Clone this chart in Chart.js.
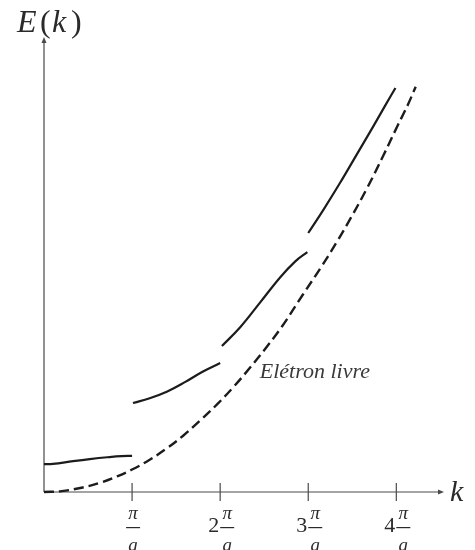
<!DOCTYPE html>
<html>
<head>
<meta charset="utf-8">
<script src="https://cdn.jsdelivr.net/npm/chart.js@4/dist/chart.umd.min.js"></script>
<style>
  html, body { margin: 0; padding: 0; background: #ffffff; }
  #wrap { width: 475px; height: 550px; position: relative; }
</style>
</head>
<body>
<div id="wrap"><canvas id="c" width="475" height="550"></canvas></div>
<script>
// k in units of pi/a, E in arbitrary units
const kFree = [0.00, 0.20, 0.44, 0.64, 0.83, 1.00, 1.20, 1.40, 1.58, 1.77, 1.97, 2.15, 2.34, 2.53, 2.70, 2.94, 3.14, 3.33, 3.48, 3.67, 3.85, 4.01, 4.13, 4.22];
const eFree = [0.00, 0.04, 0.20, 0.41, 0.69, 0.99, 1.42, 1.94, 2.48, 3.14, 3.88, 4.62, 5.48, 6.40, 7.28, 8.70, 9.87, 11.05, 12.05, 13.40, 14.80, 16.10, 17.05, 17.85];

const kBand1 = [0.00, 0.10, 0.33, 0.52, 0.72, 0.88, 1.00];
const eBand1 = [1.23, 1.24, 1.36, 1.45, 1.53, 1.58, 1.59];

const kBand2 = [1.01, 1.20, 1.40, 1.60, 1.80, 2.00];
const eBand2 = [3.92, 4.13, 4.43, 4.84, 5.30, 5.68];

const kBand3 = [2.02, 2.23, 2.45, 2.68, 2.85, 2.99];
const eBand3 = [6.43, 7.27, 8.33, 9.45, 10.15, 10.57];

const kBand4 = [3.00, 3.17, 3.36, 3.56, 3.74, 3.87, 3.99];
const eBand4 = [11.41, 12.42, 13.61, 14.93, 16.12, 17.00, 17.80];

const tickValues = [1, 2, 3, 4];
const tickPrefixes = ["", "2", "3", "4"];

const yLabel = "E(k)";
const xLabel = "k";
const freeLabel = "Elétron livre";
const freeLabelPos = [2.45, 5.02];

function pts(ks, es) { return ks.map((k, i) => ({ x: k, y: es[i] })); }

const solid = { borderColor: '#1c1c1c', borderWidth: 2.2, pointRadius: 0, fill: false, tension: 0.4, clip: false };

const SERIF = '"Liberation Serif", "DejaVu Serif", serif';

const axesPlugin = {
  id: 'axesPlugin',
  beforeDatasetsDraw(chart) {
    const ctx = chart.ctx;
    const xs = chart.scales.x, ys = chart.scales.y;
    const x0 = xs.getPixelForValue(0), y0 = ys.getPixelForValue(0);
    const xEnd = chart.chartArea.right, yTop = chart.chartArea.top;
    ctx.save();
    ctx.strokeStyle = '#4a4a4a';
    ctx.fillStyle = '#4a4a4a';
    ctx.lineWidth = 1.2;
    ctx.beginPath();
    ctx.moveTo(x0, y0); ctx.lineTo(xEnd - 2, y0);
    ctx.moveTo(x0, y0); ctx.lineTo(x0, yTop + 2);
    ctx.stroke();
    // arrowheads
    ctx.beginPath();
    ctx.moveTo(xEnd + 1, y0); ctx.lineTo(xEnd - 5, y0 - 2.5); ctx.lineTo(xEnd - 5, y0 + 2.5); ctx.closePath();
    ctx.fill();
    ctx.beginPath();
    ctx.moveTo(x0, yTop - 1); ctx.lineTo(x0 - 2.5, yTop + 5); ctx.lineTo(x0 + 2.5, yTop + 5); ctx.closePath();
    ctx.fill();
    // ticks
    tickValues.forEach(v => {
      const px = xs.getPixelForValue(v);
      ctx.beginPath(); ctx.moveTo(px, y0 - 9); ctx.lineTo(px, y0 + 9); ctx.stroke();
    });
    ctx.restore();
  },
  afterDraw(chart) {
    const ctx = chart.ctx;
    const xs = chart.scales.x, ys = chart.scales.y;
    const y0 = ys.getPixelForValue(0);
    ctx.save();
    ctx.fillStyle = '#2a2a2a';
    ctx.textBaseline = 'alphabetic';
    // tick labels
    tickValues.forEach((v, i) => {
      const px = xs.getPixelForValue(v);
      const pre = tickPrefixes[i];
      ctx.font = '22px ' + SERIF;
      const wPre = pre ? ctx.measureText(pre).width + 1 : 0;
      const fracW = 14;
      const total = wPre + fracW;
      const left = px + 1 - total / 2;
      if (pre) {
        ctx.textAlign = 'left';
        ctx.fillText(pre, left, y0 + 40);
      }
      const fx = left + wPre + fracW / 2;
      ctx.textAlign = 'center';
      ctx.font = 'italic 19px ' + SERIF;
      ctx.fillText('π', fx, y0 + 27);
      ctx.fillRect(fx - fracW / 2, y0 + 35, fracW, 1.2);
      ctx.fillText('a', fx, y0 + 59);
    });
    // x label
    ctx.textAlign = 'left';
    ctx.font = 'italic 30px ' + SERIF;
    ctx.fillText(xLabel, chart.chartArea.right + 7, y0 + 9);
    // y label E(k)
    const base = 32;
    const xPos = [17, 40, 52, 71];
    const styles = ['italic ', '', 'italic ', ''];
    for (let i = 0; i < yLabel.length; i++) {
      ctx.font = styles[i] + '32px ' + SERIF;
      ctx.fillText(yLabel[i], xPos[i], base);
    }
    // free electron label
    ctx.fillStyle = '#3a3a3a';
    ctx.font = 'italic 22px ' + SERIF;
    ctx.fillText(freeLabel, xs.getPixelForValue(freeLabelPos[0]), ys.getPixelForValue(freeLabelPos[1]));
    ctx.restore();
  }
};

new Chart(document.getElementById('c'), {
  type: 'line',
  data: {
    datasets: [
      Object.assign({ data: pts(kFree, eFree) }, solid, { borderDash: [10, 5], borderWidth: 2.4 }),
      Object.assign({ data: pts(kBand1, eBand1) }, solid),
      Object.assign({ data: pts(kBand2, eBand2) }, solid),
      Object.assign({ data: pts(kBand3, eBand3) }, solid),
      Object.assign({ data: pts(kBand4, eBand4) }, solid)
    ]
  },
  options: {
    responsive: false,
    animation: false,
    layout: { padding: { left: 44, right: 32, top: 38, bottom: 58 } },
    plugins: { legend: { display: false }, tooltip: { enabled: false } },
    scales: {
      x: { type: 'linear', min: 0, max: 4.53, display: false },
      y: { type: 'linear', min: 0, max: 20, display: false }
    }
  },
  plugins: [axesPlugin]
});
</script>
</body>
</html>
